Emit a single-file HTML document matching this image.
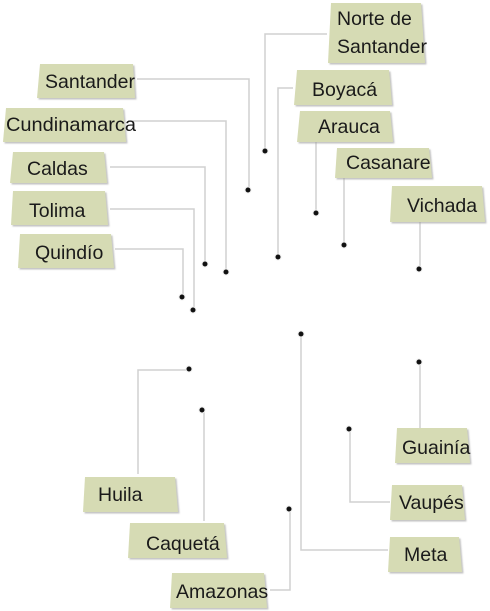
<!DOCTYPE html>
<html><head><meta charset="utf-8"><style>
html,body{margin:0;padding:0;background:#fff;}
svg{display:block;}
text{font-family:"Liberation Sans",sans-serif;font-size:19.5px;fill:#1a1a1a;}
</style></head><body>
<svg width="490" height="611" viewBox="0 0 490 611" xmlns="http://www.w3.org/2000/svg">
<defs>
<filter id="sh" x="-10%" y="-10%" width="130%" height="140%">
<feDropShadow dx="1.5" dy="1.5" stdDeviation="0.8" flood-color="#999" flood-opacity="0.6"/>
</filter>
</defs>
<g fill="none" stroke="#d0d0d0" stroke-width="1.5">
<polyline points="327,34 265,34 265,151"/>
<polyline points="137,79 249,79 249,190"/>
<polyline points="293,88 278,88 278,257"/>
<polyline points="128,121 226,121 226,272"/>
<polyline points="316,142 316,213"/>
<polyline points="110,167 205,167 205,264"/>
<polyline points="344,178 344,245"/>
<polyline points="110,209 194,209 194,310"/>
<polyline points="420,222 420,269"/>
<polyline points="115,249 183,249 183,297"/>
<polyline points="138,474 138,370 189,370"/>
<polyline points="204,521 204,410"/>
<polyline points="270,590 290,590 290,509"/>
<polyline points="388,550 301,550 301,334"/>
<polyline points="390,502 350,502 350,429"/>
<polyline points="420,428 420,362"/>
</g>
<g fill="#111" stroke="#eee" stroke-width="1">
<circle cx="265" cy="151" r="3"/><circle cx="248" cy="190" r="3"/><circle cx="278" cy="257" r="3"/>
<circle cx="226" cy="272" r="3"/><circle cx="316" cy="213" r="3"/><circle cx="205" cy="264" r="3"/>
<circle cx="344" cy="245" r="3"/><circle cx="193" cy="310" r="3"/><circle cx="419" cy="269" r="3"/>
<circle cx="182" cy="297" r="3"/><circle cx="189" cy="369" r="3"/><circle cx="202" cy="410" r="3"/>
<circle cx="289" cy="509" r="3"/><circle cx="301" cy="334" r="3"/><circle cx="349" cy="429" r="3"/>
<circle cx="419" cy="362" r="3"/>
</g>
<g fill="#d6dbb4" filter="url(#sh)">
<polygon points="331,3 421,3 425,63 328,63"/>
<polygon points="40,64 133,64 135,98 37,98"/>
<polygon points="297,70 389,70 392,105 294,105"/>
<polygon points="6,108 123,108 126,142 3,142"/>
<polygon points="300,111 390,111 393,142 297,142"/>
<polygon points="13,152 104,152 107,183 10,183"/>
<polygon points="337,148 429,148 432,178 335,178"/>
<polygon points="13,191 105,191 108,225 11,225"/>
<polygon points="392,186 482,186 485,222 390,222"/>
<polygon points="20,234 111,234 114,268 18,268"/>
<polygon points="85,477 175,477 178,512 83,512"/>
<polygon points="130,523 224,523 227,558 128,558"/>
<polygon points="172,573 264,573 267,608 170,608"/>
<polygon points="390,537 459,537 462,572 388,572"/>
<polygon points="392,485 462,485 465,520 390,520"/>
<polygon points="397,428 467,428 470,463 395,463"/>
</g>
<g>
<text x="337" y="25">Norte de</text>
<text x="337" y="53">Santander</text>
<text x="45" y="88">Santander</text>
<text x="312" y="96">Boyacá</text>
<text x="6" y="131" textLength="130" lengthAdjust="spacingAndGlyphs">Cundinamarca</text>
<text x="318" y="133">Arauca</text>
<text x="27" y="175">Caldas</text>
<text x="346" y="169">Casanare</text>
<text x="29" y="217">Tolima</text>
<text x="407" y="212">Vichada</text>
<text x="35" y="259">Quindío</text>
<text x="98" y="501">Huila</text>
<text x="146" y="550">Caquetá</text>
<text x="176" y="598">Amazonas</text>
<text x="404" y="561">Meta</text>
<text x="399" y="509">Vaupés</text>
<text x="402" y="454">Guainía</text>
</g>
</svg>
</body></html>
